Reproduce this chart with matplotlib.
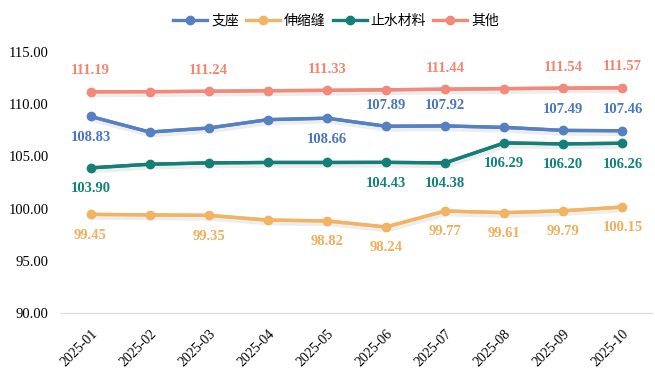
import matplotlib.pyplot as plt
import matplotlib.patheffects as pe

months = ["2025-01", "2025-02", "2025-03", "2025-04", "2025-05",
          "2025-06", "2025-07", "2025-08", "2025-09", "2025-10"]

support = [108.83, 107.33, 107.72, 108.52, 108.66, 107.89, 107.92, 107.78, 107.49, 107.46]
joint = [99.45, 99.40, 99.35, 98.90, 98.82, 98.24, 99.77, 99.61, 99.79, 100.15]
waterstop = [103.90, 104.25, 104.38, 104.42, 104.42, 104.43, 104.38, 106.29, 106.20, 106.26]
other = [111.19, 111.20, 111.24, 111.29, 111.33, 111.38, 111.44, 111.49, 111.54, 111.57]

names = ["支座", "伸缩缝", "止水材料", "其他"]
line_colors = ["#5580C2", "#F2B463", "#157F77", "#F2897A"]
label_colors = ["#4A76C0", "#F2AE5C", "#128278", "#F4846E"]

# which points carry a value label, and whether it sits above (+1) or below (-1)
label_spec = [
    {0: -1, 4: -1, 5: 1, 6: 1, 8: 1, 9: 1},
    {0: -1, 2: -1, 4: -1, 5: -1, 6: -1, 7: -1, 8: -1, 9: -1},
    {0: -1, 5: -1, 6: -1, 7: -1, 8: -1, 9: -1},
    {0: 1, 2: 1, 4: 1, 6: 1, 8: 1, 9: 1},
]

plt.rcParams["font.family"] = ["Noto Sans CJK SC", "DejaVu Sans"]
serif = "Liberation Serif"

fig = plt.figure(figsize=(6.55, 3.81), dpi=100)
ax = fig.add_axes([0.0931, 0.1785, 0.9023, 0.685])

x = list(range(len(months)))
series = [support, joint, waterstop, other]
shadow = [pe.SimpleLineShadow(offset=(0.8, -1.6), alpha=0.07, rho=0.2, linewidth=4.5), pe.Normal()]

for vals, name, lc, tc, spec in zip(series, names, line_colors, label_colors, label_spec):
    ax.plot(x, vals, color=lc, lw=2.4, path_effects=shadow,
            solid_capstyle="round", zorder=3)
    ax.plot(x, vals, color=lc, lw=2.4, marker="o", ms=6, label=name, zorder=4)
    for i, side in spec.items():
        ax.annotate(f"{vals[i]:.2f}", (i, vals[i]), xytext=(0, 15 * side),
                    textcoords="offset points", ha="center", va="center",
                    color=tc, fontsize=10.5, fontweight="bold", family=serif)

ax.set_xlim(-0.5, len(months) - 0.5)
ax.set_ylim(90, 115)
ax.set_yticks([90, 95, 100, 105, 110, 115])
ax.set_yticklabels([f"{v:.2f}" for v in [90, 95, 100, 105, 110, 115]],
                   family=serif, fontsize=10.5)
ax.set_xticks(x)
ax.set_xticklabels(months, rotation=45, ha="right", rotation_mode="anchor",
                   family=serif, fontsize=10)
ax.tick_params(length=0, pad=9)
ax.tick_params(axis="x", pad=10)

for s in ["top", "right", "left"]:
    ax.spines[s].set_visible(False)
ax.spines["bottom"].set_color("#D9D9D9")

fig.legend(loc="center", bbox_to_anchor=(0.513, 0.946), ncol=4, frameon=False,
           fontsize=10, handlelength=2.45, columnspacing=0.5, handletextpad=0.3,
           borderaxespad=0)

fig.savefig("out.png", dpi=100)
